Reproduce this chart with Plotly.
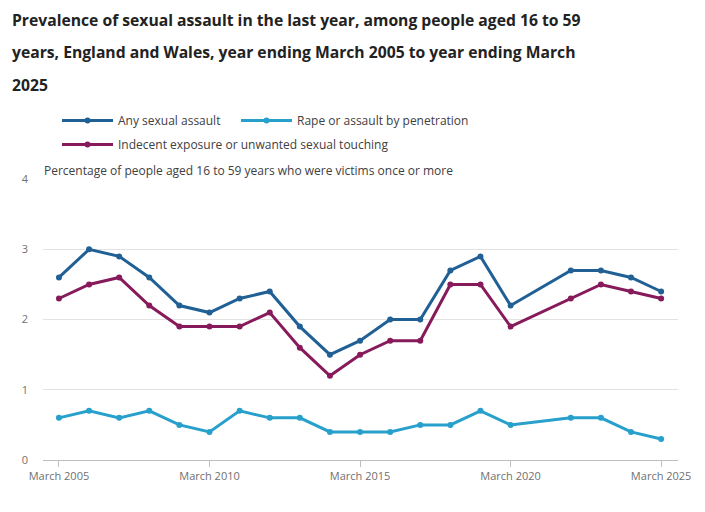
import plotly.graph_objects as go

years = [2005, 2006, 2007, 2008, 2009, 2010, 2011, 2012, 2013, 2014, 2015,
         2016, 2017, 2018, 2019, 2020, 2022, 2023, 2024, 2025]
any_assault = [2.6, 3.0, 2.9, 2.6, 2.2, 2.1, 2.3, 2.4, 1.9, 1.5, 1.7,
               2.0, 2.0, 2.7, 2.9, 2.2, 2.7, 2.7, 2.6, 2.4]
rape_penetration = [0.6, 0.7, 0.6, 0.7, 0.5, 0.4, 0.7, 0.6, 0.6, 0.4, 0.4,
                    0.4, 0.5, 0.5, 0.7, 0.5, 0.6, 0.6, 0.4, 0.3]
indecent_touching = [2.3, 2.5, 2.6, 2.2, 1.9, 1.9, 1.9, 2.1, 1.6, 1.2, 1.5,
                     1.7, 1.7, 2.5, 2.5, 1.9, 2.3, 2.5, 2.4, 2.3]

x_tick_vals = [2005, 2010, 2015, 2020, 2025]
x_tick_text = ["March 2005", "March 2010", "March 2015", "March 2020", "March 2025"]
y_tick_vals = [0, 1, 2, 3, 4]

title_lines = [
    "Prevalence of sexual assault in the last year, among people aged 16 to 59",
    "years, England and Wales, year ending March 2005 to year ending March",
    "2025",
]
y_title = "Percentage of people aged 16 to 59 years who were victims once or more"

FONT = "Open Sans"
OFF = 8  # page body margin
SW, SH = 705, 512  # screen size
W, H = SW - OFF, SH - OFF
# plot area in screen pixels
PL, PR, PT, PB = 43, 678, 178, 460
M_L, M_R, M_T, M_B = PL - OFF, SW - PR, PT - OFF, SH - PB
plot_w = PR - PL
plot_h = PB - PT

# name, values, colour, legend id, legend left (screen px), legend top (screen px)
series = [
    ("Any sexual assault", any_assault, "#206095", "legend", 57, 106),
    ("Rape or assault by penetration", rape_penetration, "#27A0CC", "legend2", 236, 106),
    ("Indecent exposure or unwanted sexual touching", indecent_touching, "#871A5B", "legend3", 57, 130),
]


def px(xpix):
    return (xpix - PL) / plot_w


def py(ypix):
    return (PB - ypix) / plot_h


fig = go.Figure()
legends = {}
for name, vals, col, leg, lx, ly in series:
    fig.add_trace(go.Scatter(
        x=years, y=vals, name=name, mode="lines+markers",
        line=dict(color=col, width=3),
        marker=dict(color=col, size=6),
        legend=leg,
    ))
    legends[leg] = dict(
        orientation="h", xref="container", yref="container",
        xanchor="left", yanchor="top",
        x=(lx - OFF) / W, y=1 - (ly - OFF) / H,
        font=dict(family=FONT, size=12, color="#414042"),
        itemwidth=51, bgcolor="rgba(0,0,0,0)",
    )

annotations = []
for line, ypix in zip(title_lines, [18, 50, 83]):
    annotations.append(dict(
        text="<b>" + line + "</b>", x=px(10), xref="paper", y=py(ypix), yref="paper",
        xanchor="left", yanchor="middle", showarrow=False,
        font=dict(family=FONT, size=15.7, color="#222222"),
    ))

annotations.append(dict(
    text=y_title, x=px(42), xref="paper", y=py(169), yref="paper",
    xanchor="left", yanchor="middle", showarrow=False,
    font=dict(family=FONT, size=12, color="#414042"),
))

fig.update_layout(
    width=W, height=H,
    margin=dict(l=M_L, r=M_R, t=M_T, b=M_B),
    paper_bgcolor="white", plot_bgcolor="white",
    font=dict(family=FONT, size=12, color="#414042"),
    showlegend=True,
    annotations=annotations,
    xaxis=dict(
        range=[2004.47, 2025.56], tickmode="array",
        tickvals=x_tick_vals, ticktext=x_tick_text,
        showgrid=False, zeroline=False,
        showline=True, linecolor="#bebebe", linewidth=1,
        ticks="outside", ticklen=6, tickcolor="#bebebe", tickwidth=1,
        tickfont=dict(family=FONT, size=11, color="#707071"),
    ),
    yaxis=dict(
        range=[0, 4], tickmode="array", tickvals=y_tick_vals,
        showgrid=True, gridcolor="#e2e2e2", gridwidth=1,
        zeroline=False, showline=False,
        ticklabelstandoff=14,
        tickfont=dict(family=FONT, size=11, color="#707071"),
    ),
    **legends,
)

fig.write_html("out.html")
